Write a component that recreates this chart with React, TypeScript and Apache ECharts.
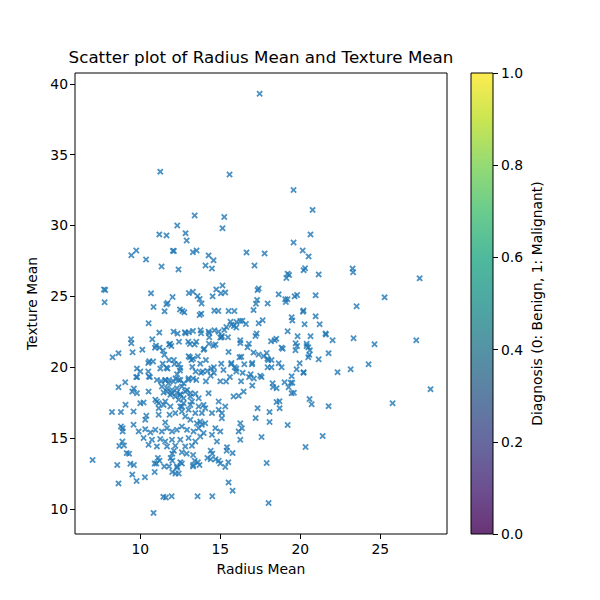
import { useEffect, useRef } from 'react';
import * as echarts from 'echarts';

// [radius mean, texture mean]
const topPoints: [number, number][] = [
  [11.25, 33.8], [17.46, 39.3], [15.58, 33.6], [12.31, 30.0], [13.4, 30.7], [15.25, 30.6],
  [15.14, 29.8], [19.58, 32.5], [20.77, 31.1], [11.19, 29.37], [11.64, 29.3], [12.83, 29.46],
  [12.9, 28.94], [9.75, 28.24], [9.44, 27.9], [12.04, 28.21], [12.1, 28.2], [13.29, 28.12],
  [13.52, 28.24], [14.27, 27.89], [14.58, 27.54], [10.36, 27.6], [16.64, 28.1], [17.14, 27.18],
  [11.33, 27.11], [12.39, 26.9], [14.08, 27.18], [14.48, 26.97], [7.73, 25.49], [7.81, 25.45],
  [7.77, 24.58], [15.14, 25.77], [14.75, 25.49], [15.04, 25.21], [15.31, 25.28], [14.52, 25.0],
  [10.67, 25.21], [12.02, 24.95], [11.71, 24.53], [11.63, 24.44], [13.04, 25.23], [13.29, 25.32],
  [13.58, 25.02], [13.71, 24.81], [13.83, 24.5], [10.83, 24.25], [11.52, 23.94], [12.48, 24.08],
  [12.63, 23.97], [12.75, 23.87], [13.81, 23.78], [13.71, 23.68], [14.63, 23.99], [14.88, 23.97],
  [15.52, 23.97], [15.88, 23.97], [17.08, 24.03], [17.23, 24.48], [17.3, 24.75], [10.52, 23.1],
];

const upperMidPoints: [number, number][] = [
  [11.19, 22.44], [10.75, 21.97], [9.42, 21.97], [9.44, 21.69], [9.52, 21.06], [10.13, 21.24],
  [8.27, 20.7], [8.64, 20.99], [10.98, 21.52], [10.92, 21.38], [11.21, 21.38], [11.42, 21.17],
  [11.86, 21.66], [11.8, 21.6], [11.94, 21.5], [11.5, 20.87], [12.08, 22.51], [12.33, 22.37],
  [12.42, 21.8], [12.79, 22.46], [12.83, 22.4], [13.04, 22.46], [13.0, 21.8], [13.1, 21.64],
  [13.5, 21.8], [13.4, 21.6], [13.29, 22.56], [13.77, 22.6], [13.8, 22.4], [14.27, 22.51],
  [14.31, 22.11], [14.3, 22.4], [14.63, 22.6], [14.9, 22.5], [15.25, 22.63], [15.38, 22.84],
  [15.48, 22.11], [15.08, 22.11], [15.1, 22.2], [14.58, 21.52], [14.7, 21.6], [14.29, 21.66],
  [13.96, 21.24], [14.0, 21.3], [15.0, 22.1], [15.64, 23.21], [15.7, 23.0], [15.85, 22.91],
  [16.02, 23.19], [16.25, 23.26], [16.38, 23.28], [16.0, 22.8], [16.6, 23.05], [17.4, 23.1],
  [17.27, 22.37], [17.2, 22.2], [16.25, 21.9], [16.25, 21.7], [16.79, 21.66], [16.7, 21.4],
  [17.08, 21.03], [15.52, 21.08], [16.31, 20.73], [16.2, 20.7], [17.4, 20.9],
  [10.56, 20.42], [10.5, 20.3], [10.8, 20.4], [9.79, 19.9], [9.75, 19.3], [9.8, 19.3],
  [9.06, 18.94], [10.54, 19.34], [10.6, 19.3], [11.25, 19.9], [11.4, 20.25], [11.64, 19.97],
  [11.7, 19.9], [12.14, 20.23], [12.1, 20.51], [11.8, 20.5], [12.4, 20.2], [12.48, 19.77],
  [13.02, 20.77], [13.1, 20.7], [13.3, 20.6], [13.2, 20.5], [13.25, 20.02], [13.46, 19.69],
  [13.6, 20.77], [13.75, 20.25], [13.8, 19.6], [13.9, 19.7], [14.19, 19.74], [14.1, 20.5],
  [14.44, 19.9], [14.6, 20.0], [14.6, 19.6], [15.06, 20.25], [15.2, 19.8], [15.36, 18.99],
  [15.67, 20.21], [15.7, 20.3], [15.9, 20.0], [16.0, 19.9], [16.0, 19.7], [16.5, 20.21],
  [16.4, 19.6], [16.98, 20.21], [17.0, 20.3], [16.9, 19.5], [16.8, 19.3], [17.5, 19.4],
  [16.3, 19.0], [12.5, 19.95], [12.3, 19.5], [11.58, 19.08], [11.8, 19.1], [11.3, 19.0],
  [12.2, 19.2], [12.5, 19.1], [13.0, 19.1], [13.3, 19.2], [13.5, 19.1], [14.1, 19.0],
  [14.4, 19.4], [15.0, 19.0], [15.6, 19.3], [10.5, 19.7], [10.0, 19.7],
];

const rightPoints: [number, number][] = [
  [20.64, 29.37], [19.58, 28.8], [20.15, 28.24], [20.52, 27.82], [17.77, 28.03], [19.21, 26.6],
  [19.3, 26.5], [19.13, 26.29], [20.21, 26.85], [20.3, 26.98], [21.15, 26.55], [23.27, 26.97],
  [23.3, 26.7], [27.46, 26.27], [17.33, 25.44], [17.4, 25.55], [18.65, 25.14], [19.06, 24.79],
  [19.2, 24.8], [19.1, 24.6], [19.65, 25.0], [19.8, 25.1], [20.96, 25.07], [25.27, 24.93],
  [23.52, 24.3], [17.96, 24.5], [20.17, 23.92], [20.2, 24.0], [20.96, 23.59], [19.46, 23.52],
  [19.5, 23.3], [17.65, 23.31], [20.27, 23.03], [21.21, 23.03], [19.21, 22.54], [19.83, 22.18],
  [20.64, 22.18], [21.58, 22.37], [21.6, 22.3], [22.02, 21.9], [23.33, 22.04], [24.64, 21.62],
  [27.25, 21.9], [18.17, 21.83], [18.4, 21.9], [18.5, 22.0], [18.83, 21.38], [18.9, 21.3],
  [19.71, 21.69], [19.8, 21.5], [19.7, 21.2], [20.4, 21.66], [20.4, 21.5], [20.5, 21.4],
  [20.6, 21.2], [20.56, 20.87], [20.5, 20.7], [21.77, 20.99], [21.15, 20.56], [17.71, 20.77],
  [17.9, 21.0], [17.95, 20.6], [18.0, 20.5], [18.2, 20.5], [18.65, 20.28], [17.96, 20.0],
  [18.2, 20.0], [18.83, 20.0], [19.96, 20.28], [19.77, 19.86], [20.21, 19.65], [20.2, 19.6],
  [22.33, 19.65], [23.15, 19.86], [24.27, 20.21], [17.58, 19.3], [17.1, 19.2], [19.46, 19.37],
  [18.27, 18.87], [19.02, 18.94], [19.4, 18.9], [19.5, 18.9], [18.3, 18.6], [18.52, 18.52],
  [19.27, 18.59], [19.46, 18.17], [19.6, 18.2], [28.14, 18.45], [25.77, 17.46], [20.58, 17.75],
  [20.71, 17.39], [21.77, 17.25], [18.52, 17.54], [18.7, 17.6], [18.71, 17.11], [17.33, 17.11],
  [18.08, 16.83], [17.21, 16.41], [18.08, 16.13], [19.21, 15.92], [17.58, 15.07], [21.4, 15.14],
  [20.33, 14.37], [17.9, 13.24], [18.02, 10.42],
];

const corePoints: [number, number][] = [
  [9.79, 18.17], [10.52, 18.28], [11.46, 18.21], [11.67, 18.28], [11.98, 18.17], [12.29, 18.21],
  [12.5, 18.05], [12.81, 18.28], [13.13, 18.17], [13.44, 18.12], [10.21, 17.51], [10.0, 17.46],
  [9.58, 16.87], [10.38, 16.57], [10.31, 16.29], [11.04, 17.58], [11.15, 17.11], [11.15, 16.64],
  [11.46, 17.34], [11.88, 17.23], [11.83, 16.64], [11.56, 16.1], [12.19, 16.76], [12.5, 17.23],
  [12.6, 16.87], [12.71, 17.46], [12.81, 16.52], [13.02, 16.99], [13.13, 16.29], [13.23, 17.58],
  [13.44, 16.76], [13.54, 16.05], [13.65, 17.23], [9.58, 15.94], [9.9, 15.47], [10.31, 15.63],
  [10.63, 15.4], [10.94, 15.58], [11.35, 15.47], [11.67, 15.7], [11.98, 15.47], [12.29, 15.58],
  [12.6, 15.82], [12.92, 15.58], [13.33, 15.47], [13.65, 15.7], [10.21, 15.0], [10.73, 14.88],
  [11.25, 14.93], [11.56, 14.76], [11.98, 14.88], [12.5, 14.88], [13.02, 15.0], [13.44, 14.76],
  [10.52, 14.53], [11.04, 14.41], [11.67, 14.41], [12.19, 14.46], [12.81, 14.41], [13.23, 14.46],
  [14.27, 18.17], [15.83, 17.93], [16.15, 17.98], [16.46, 18.28], [13.96, 17.34], [14.06, 17.11],
  [13.85, 16.76], [14.48, 16.76], [14.9, 17.58], [14.9, 16.99], [15.1, 16.76], [15.31, 17.23],
  [15.1, 16.4], [13.75, 16.17], [13.85, 15.94], [14.06, 16.05], [13.96, 15.35], [14.69, 15.7],
  [14.48, 15.23], [15.0, 15.47], [14.79, 14.76], [16.25, 16.05], [16.15, 15.47], [16.35, 15.7],
  [16.25, 14.88], [15.42, 14.36], [13.75, 15.11], [17.0, 18.7],
];

// the densest knot, around radius 11-13 and texture 17-19
const clusterPoints: [number, number][] = [
  [11.04, 19.1], [11.56, 19.1], [11.77, 18.87], [12.08, 18.99], [12.4, 19.1], [12.71, 18.87],
  [13.02, 19.22], [11.35, 18.63], [11.67, 18.52], [11.98, 18.4], [12.29, 18.52], [12.6, 18.63],
  [12.92, 18.4], [11.88, 18.05], [12.19, 17.93], [12.5, 18.1], [12.4, 17.7], [12.71, 17.81],
  [13.13, 17.93], [10.94, 17.7], [11.15, 17.46], [11.56, 17.58], [13.65, 17.81], [13.13, 17.34],
  [12.6, 17.23],
];

const lowerPoints: [number, number][] = [
  [7.02, 13.45], [8.23, 16.83], [8.79, 16.83], [8.64, 18.59], [8.79, 15.82], [8.9, 15.7],
  [8.9, 15.47], [9.08, 17.35], [9.5, 18.28], [9.6, 18.5], [8.88, 14.76], [8.98, 14.48],
  [8.69, 14.44], [9.15, 13.94], [9.3, 13.9], [9.38, 13.19], [9.6, 13.1], [9.5, 12.42],
  [8.56, 13.1], [8.64, 11.8], [9.77, 11.97], [10.29, 12.23], [12.1, 14.1], [12.0, 13.9],
  [11.9, 13.6], [12.0, 13.4], [11.1, 13.6], [11.2, 13.4], [11.0, 13.2], [10.9, 13.2],
  [10.9, 12.6], [11.5, 13.0], [11.8, 13.0], [12.3, 13.0], [12.0, 12.6], [12.2, 12.5],
  [12.4, 12.5], [12.3, 12.9], [12.5, 13.3], [12.6, 13.2], [12.6, 14.0], [12.9, 13.9],
  [13.3, 13.8], [13.3, 13.0], [13.4, 13.4], [13.6, 13.3], [13.7, 13.1], [13.3, 13.1],
  [11.44, 10.85], [11.6, 10.8], [11.96, 10.89], [13.58, 10.89], [14.5, 10.89], [10.83, 9.72],
  [14.4, 14.1], [14.5, 13.9], [14.2, 13.6], [14.4, 13.5], [14.7, 13.5], [14.9, 13.4],
  [15.0, 13.2], [15.4, 14.1], [15.5, 13.3], [15.52, 11.87], [15.77, 11.29], [15.77, 13.94],
  [15.31, 12.96],
];

const allPoints = [
  ...topPoints, ...upperMidPoints, ...rightPoints, ...corePoints, ...clusterPoints, ...lowerPoints,
];

const xTicks = [10, 15, 20, 25];
const yTicks = [10, 15, 20, 25, 30, 35, 40];
const colorbarTicks = [0, 0.2, 0.4, 0.6, 0.8, 1.0];

// viridis, drawn at alpha 0.8 like the scatter call
const viridisStops = [
  '#440154', '#482475', '#414487', '#355f8d', '#2a788e', '#21918c',
  '#22a884', '#44bf70', '#7ad151', '#bddf26', '#fde725',
];

const FONT = 'DejaVu Sans';

function hexToRgba(hex: string, a: number) {
  const n = parseInt(hex.slice(1), 16);
  return `rgba(${(n >> 16) & 255},${(n >> 8) & 255},${n & 255},${a})`;
}

export default function App() {
  const chartRef = useRef<HTMLDivElement | null>(null);

  useEffect(() => {
    if (!chartRef.current) {
      return;
    }
    document.body.style.margin = '0';

    const chart = echarts.init(chartRef.current, null, { renderer: 'svg' });

    const gradient = new echarts.graphic.LinearGradient(
      0, 1, 0, 0,
      viridisStops.map((c, i) => ({ offset: i / (viridisStops.length - 1), color: hexToRgba(c, 0.8) })),
    );

    chart.setOption({
      animation: false,
      backgroundColor: '#fff',
      textStyle: { fontFamily: FONT },
      title: {
        text: 'Scatter plot of Radius Mean and Texture Mean',
        left: 261,
        top: 48,
        textAlign: 'center',
        padding: 0,
        textStyle: { fontFamily: FONT, fontSize: 16.7, fontWeight: 'normal', color: '#000' },
      },
      grid: [
        {
          left: 75,
          top: 73,
          width: 372,
          height: 461,
          show: true,
          borderColor: '#000',
          borderWidth: 1,
          containLabel: false,
          outerBoundsMode: 'none',
        },
        {
          left: 471,
          top: 73,
          width: 22,
          height: 461,
          show: true,
          borderColor: '#000',
          borderWidth: 1,
          z: 5,
          containLabel: false,
          outerBoundsMode: 'none',
        },
      ],
      xAxis: [
        {
          gridIndex: 0,
          type: 'value',
          min: 5.92,
          max: 29.17,
          splitLine: { show: false },
          axisLine: { show: false },
          axisTick: {
            show: true,
            inside: false,
            length: 5,
            lineStyle: { color: '#000' },
            customValues: xTicks,
          },
          axisLabel: {
            margin: 8,
            color: '#000',
            fontSize: 13.9,
            fontFamily: FONT,
            customValues: xTicks,
          },
          name: 'Radius Mean',
          nameLocation: 'middle',
          nameGap: 28,
          nameTextStyle: { color: '#000', fontSize: 13.9, fontFamily: FONT },
        },
        {
          gridIndex: 1,
          type: 'category',
          data: [''],
          show: false,
        },
      ],
      yAxis: [
        {
          gridIndex: 0,
          type: 'value',
          min: 8.23,
          max: 40.76,
          splitLine: { show: false },
          axisLine: { show: false },
          axisTick: {
            show: true,
            inside: false,
            length: 5,
            lineStyle: { color: '#000' },
            customValues: yTicks,
          },
          axisLabel: {
            margin: 7,
            color: '#000',
            fontSize: 13.9,
            fontFamily: FONT,
            customValues: yTicks,
          },
          name: 'Texture Mean',
          nameLocation: 'middle',
          nameGap: 33,
          nameRotate: 90,
          nameTextStyle: { color: '#000', fontSize: 13.9, fontFamily: FONT },
        },
        {
          gridIndex: 1,
          type: 'value',
          position: 'right',
          min: 0,
          max: 1,
          splitLine: { show: false },
          axisLine: { show: false },
          axisTick: {
            show: true,
            inside: false,
            length: 5,
            lineStyle: { color: '#000' },
            customValues: colorbarTicks,
          },
          axisLabel: {
            margin: 8,
            color: '#000',
            fontSize: 13.9,
            fontFamily: FONT,
            customValues: colorbarTicks,
            formatter: (v: number) => v.toFixed(1),
          },
          name: 'Diagnosis (0: Benign, 1: Malignant)',
          nameLocation: 'middle',
          nameGap: 37,
          nameRotate: 90,
          nameTextStyle: { color: '#000', fontSize: 13.9, fontFamily: FONT },
        },
      ],
      series: [
        {
          type: 'scatter',
          xAxisIndex: 0,
          yAxisIndex: 0,
          data: allPoints,
          symbol: 'path://M0,2L2,0L5,3L8,0L10,2L7,5L10,8L8,10L5,7L2,10L0,8L3,5Z',
          symbolSize: 6.5,
          itemStyle: { color: '#1f77b4', opacity: 0.8 },
          silent: true,
        },
        {
          type: 'bar',
          xAxisIndex: 1,
          yAxisIndex: 1,
          data: [1],
          barWidth: '100%',
          itemStyle: { color: gradient },
          silent: true,
        },
      ],
    });

    return () => {
      chart.dispose();
    };
  }, []);

  return <div ref={chartRef} style={{ width: 600, height: 600 }} />;
}
